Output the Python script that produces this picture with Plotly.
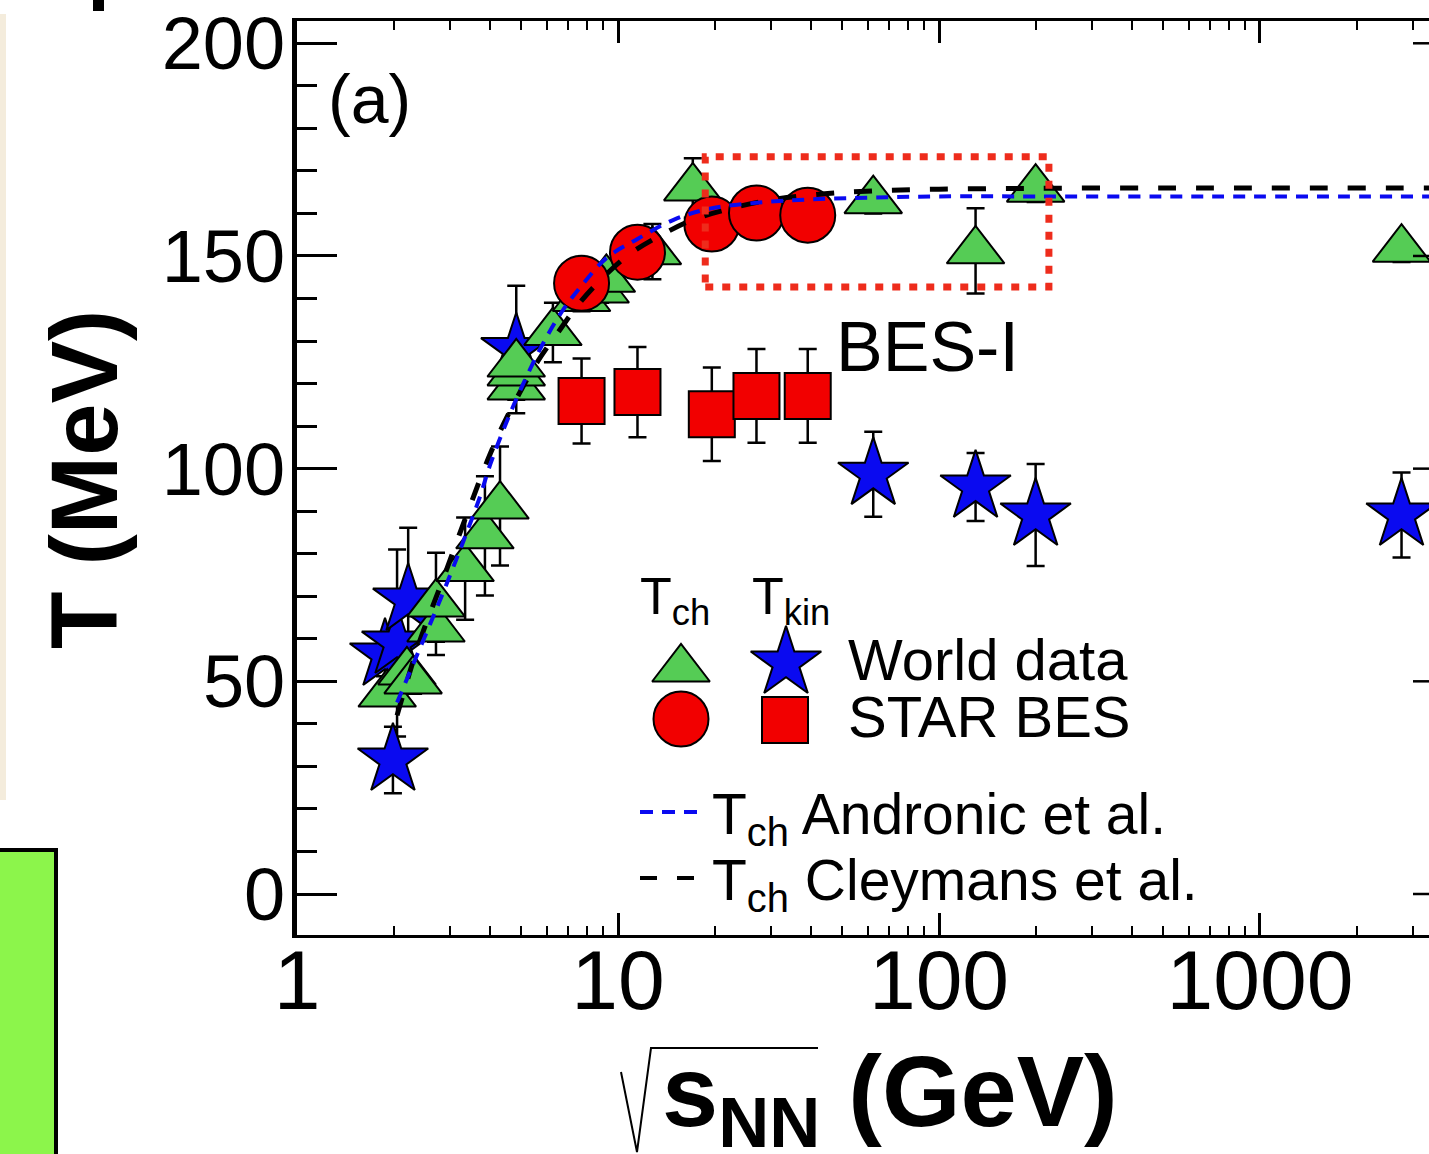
import plotly.graph_objects as go

# ---------------- data ----------------
# chemical freeze-out temperature, world data (green triangles)
tch_world_x = [1.91, 2.20, 2.30, 2.71, 2.71, 3.34, 3.85, 4.29, 4.82, 4.82, 4.82,
               6.27, 7.7, 8.8, 9.2, 12.8, 17.1, 62.4, 130, 200, 2760]
tch_world_T = [47.0, 52.2, 50.1, 62.3, 68.2, 76.5, 84.2, 91.2, 119.2, 122.5, 124.6,
               132.0, 140.0, 142.0, 144.5, 151.0, 166.0, 163.0, 151.2, 165.7, 151.6]
tch_world_err = [0, 0, 3, 3, 12, 12, 14, 14, 3, 3, 3,
                 7, 3, 3, 3, 6.5, 7, 3, 10, 3, 3]

# kinetic freeze-out temperature, world data (blue stars)
tkin_world_x = [1.99, 1.88, 2.05, 2.22, 4.82, 62.4, 130, 200, 2760]
tkin_world_T = [31.5, 56.2, 59.0, 69.1, 128.0, 98.7, 95.7, 89.1, 89.1]
tkin_world_err = [7.8, 5, 22, 17, 15, 10, 8, 12, 10]

# STAR BES
bes_x = [7.7, 11.5, 19.6, 27, 39]
tch_bes_T = [143.6, 150.9, 157.5, 160.1, 159.6]
tkin_bes_T = [115.9, 118.0, 112.8, 117.1, 117.1]
tkin_bes_err = [10, 10.6, 11, 11, 11]

# model curves
andronic_x = [2.05, 2.3, 2.65, 3.0, 3.3, 3.7, 4.0, 4.5, 5.0, 5.8, 6.7, 7.7, 9.2, 11.5,
              14.9, 19, 27, 40, 62, 100, 200, 500, 1000, 4000]
andronic_T = [45, 54, 65, 75, 83, 93, 101, 111, 119, 129, 137, 143, 149.5, 154,
              158.5, 161, 162.5, 163.3, 163.7, 164, 164, 164, 164, 164]
cleymans_x = [2.05, 2.4, 2.85, 3.45, 4.0, 4.5, 5.6, 6.5, 7.6, 9.0, 10.9, 13.7, 17.1,
              22, 30, 45, 62, 100, 200, 500, 1000, 4000]
cleymans_T = [42, 59, 74, 91, 103.5, 112, 125, 132, 139, 145, 150.5, 155, 158.5,
              161, 163.2, 164.7, 165.3, 165.7, 165.9, 166, 166, 166]

# BES-I region box
bes_box_x = [18.7, 220]
bes_box_T = [142.7, 173.3]

x_major = [1, 10, 100, 1000]
x_major_text = ["1", "10", "100", "1000"]
x_minor = [m * d for d in (1, 10, 100, 1000) for m in range(2, 10)]
y_major = [0, 50, 100, 150, 200]

# ---------------- styling ----------------
FONT = "Liberation Sans, Arial, Helvetica, sans-serif"
GREEN = "#55cc55"
BLUE = "#0a0af0"
RED = "#f20000"
BOXRED = "#ee2c1c"

W, H = 1429, 1154
L, R, T, B = 297, 0, 21, 219


def px2p(xp):
    return (xp - L) / (W - L - R)


def py2p(yp):
    return (H - B - yp) / (H - T - B)


fig = go.Figure()

err_style = dict(type="data", color="black", thickness=2.5, width=9)

fig.add_trace(go.Scatter(
    x=tkin_world_x, y=tkin_world_T, mode="markers",
    marker=dict(symbol="star", size=53, color=BLUE, line=dict(color="black", width=2)),
    error_y=dict(array=tkin_world_err, **err_style)))

fig.add_trace(go.Scatter(
    x=tch_world_x, y=tch_world_T, mode="markers",
    marker=dict(symbol="triangle-up", size=50, color=GREEN, line=dict(color="black", width=2)),
    error_y=dict(array=tch_world_err, **err_style)))

fig.add_trace(go.Scatter(
    x=bes_x, y=tkin_bes_T, mode="markers",
    marker=dict(symbol="square", size=46, color=RED, line=dict(color="black", width=2)),
    error_y=dict(array=tkin_bes_err, **err_style)))

fig.add_trace(go.Scatter(
    x=bes_x, y=tch_bes_T, mode="markers",
    marker=dict(symbol="circle", size=55, color=RED, line=dict(color="black", width=2))))

fig.add_trace(go.Scatter(
    x=cleymans_x, y=cleymans_T, mode="lines", line_shape="spline",
    line=dict(color="black", width=5, dash="18px,20px")))

fig.add_trace(go.Scatter(
    x=andronic_x, y=andronic_T, mode="lines", line_shape="spline",
    line=dict(color=BLUE, width=4, dash="12px,9px")))

# BES-I box
fig.add_trace(go.Scatter(
    x=[bes_box_x[0], bes_box_x[1], bes_box_x[1], bes_box_x[0], bes_box_x[0]],
    y=[bes_box_T[0], bes_box_T[0], bes_box_T[1], bes_box_T[1], bes_box_T[0]],
    mode="lines", line=dict(color=BOXRED, width=7, dash="8px,9px")))

# legend symbols on an overlay axis (fractions of the plot area)
leg = [("triangle-up", GREEN, 50, 681, 669),
       ("star", BLUE, 53, 786, 663),
       ("circle", RED, 55, 681, 719),
       ("square", RED, 46, 785, 720)]
for sym, col, size, xp, yp in leg:
    fig.add_trace(go.Scatter(
        x=[px2p(xp)], y=[py2p(yp)], xaxis="x2", yaxis="y2", mode="markers",
        marker=dict(symbol=sym, size=size, color=col, line=dict(color="black", width=2))))

shapes = []
# right-side ticks of the frame (frame itself lies past the page edge)
for v in y_major:
    shapes.append(dict(type="line", xref="paper", yref="y", x0=px2p(1413), x1=1.0,
                       y0=v, y1=v, line=dict(color="black", width=2.5)))
# legend line samples
shapes.append(dict(type="line", xref="paper", yref="paper", x0=px2p(640), x1=px2p(697),
                   y0=py2p(812), y1=py2p(812), line=dict(color=BLUE, width=4, dash="13px,9px")))
shapes.append(dict(type="line", xref="paper", yref="paper", x0=px2p(640), x1=px2p(697),
                   y0=py2p(878), y1=py2p(878), line=dict(color="black", width=4, dash="17px,20px")))
# radical sign of the x title
rad = [(621, 1072), (637, 1152), (651, 1048), (818, 1048)]
path = "M " + " L ".join(f"{px2p(a):.5f},{py2p(b):.5f}" for a, b in rad)
shapes.append(dict(type="path", xref="paper", yref="paper", path=path,
                   line=dict(color="black", width=2)))
# slide decorations around the chart
shapes.append(dict(type="rect", xref="paper", yref="paper", x0=px2p(0), x1=px2p(6),
                   y0=py2p(800), y1=py2p(14), fillcolor="#f4ecdc", line=dict(width=0)))
shapes.append(dict(type="rect", xref="paper", yref="paper", x0=px2p(-5), x1=px2p(56),
                   y0=py2p(1160), y1=py2p(850), fillcolor="#8cf54b",
                   line=dict(color="black", width=4)))
shapes.append(dict(type="rect", xref="paper", yref="paper", x0=px2p(93), x1=px2p(104),
                   y0=py2p(11), y1=py2p(-2), fillcolor="black", line=dict(width=0)))

annotations = []


def txt(text, xp, yp, size, xanchor="left", yanchor="middle", angle=0):
    annotations.append(dict(text=text, x=px2p(xp), y=py2p(yp), xref="paper", yref="paper",
                            xanchor=xanchor, yanchor=yanchor, showarrow=False,
                            textangle=angle, font=dict(size=size, family=FONT, color="black")))


txt("(a)", 326, 99, 68)
txt("BES-I", 834, 347, 70)
txt("T<sub>ch</sub>", 638, 600, 52)
txt("T<sub>kin</sub>", 750, 600, 52)
txt("World data", 846, 659, 58)
txt("STAR BES", 846, 716, 58)
txt("T<sub>ch</sub> Andronic et al.", 710, 818, 57)
txt("T<sub>ch</sub> Cleymans et al.", 710, 884, 57)
txt("<b>T (MeV)</b>", 85, 480, 94, xanchor="center", angle=-90)
txt("<b>s<sub>NN</sub> (GeV)</b>", 660, 1098, 101)

fig.update_layout(
    width=W, height=H,
    margin=dict(l=L, r=R, t=T, b=B, pad=0),
    paper_bgcolor="white", plot_bgcolor="white",
    showlegend=False,
    font=dict(family=FONT, color="black"),
    xaxis=dict(type="log", range=[0, 3.5265], showgrid=False, zeroline=False,
               showline=True, linecolor="black", linewidth=3, mirror="ticks",
               ticks="inside", ticklen=22, tickwidth=2.5, tickcolor="black",
               tickmode="array", tickvals=x_major, ticktext=x_major_text,
               ticklabelstandoff=-30,
               tickfont=dict(size=84, family=FONT, color="black"),
               minor=dict(ticks="inside", ticklen=9, tickwidth=2, tickcolor="black",
                          tickmode="array", tickvals=x_minor)),
    yaxis=dict(range=[-9.64, 205.24], showgrid=False, zeroline=False,
               showline=True, linecolor="black", linewidth=5,
               ticks="inside", ticklen=40, tickwidth=2.5, tickcolor="black",
               tickmode="array", tickvals=y_major, ticklabelstandoff=-8,
               tickfont=dict(size=74, family=FONT, color="black"),
               minor=dict(ticks="inside", ticklen=20, tickwidth=2.5, tickcolor="black",
                          dtick=10, tick0=0)),
    xaxis2=dict(overlaying="x", anchor="y2", range=[0, 1], visible=False),
    yaxis2=dict(overlaying="y", anchor="x2", range=[0, 1], visible=False),
    shapes=shapes,
    annotations=annotations,
)

fig.write_html("out.html")
